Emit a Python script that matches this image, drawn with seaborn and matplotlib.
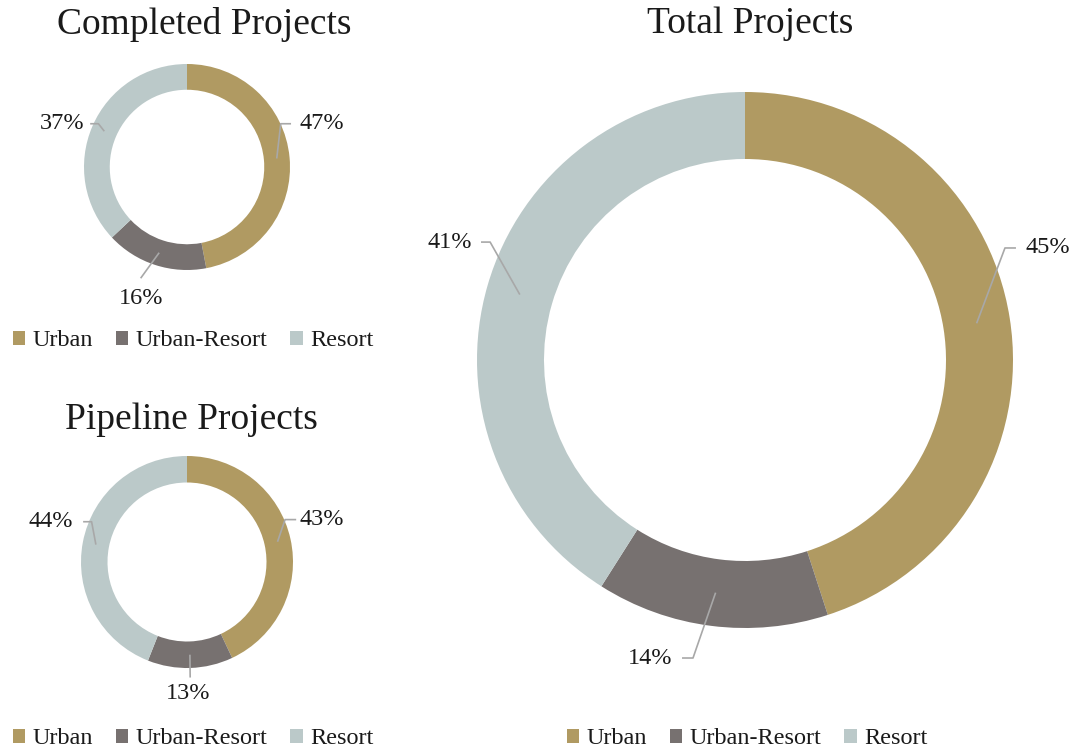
"""Donut charts of project mix: completed, pipeline and total."""

import matplotlib

matplotlib.use("Agg")
import matplotlib.pyplot as plt
import numpy as np
import seaborn as sns
from matplotlib.patches import Patch

# Data
categories = ["Urban", "Urban-Resort", "Resort"]
completed = [47, 16, 37]
pipeline = [43, 13, 44]
total = [45, 14, 41]

colors = ["#B09A62", "#777170", "#BBC9C9"]
line_color = "#A8A8A8"

sns.set_theme(style="white")
plt.rcParams["font.family"] = ["Liberation Serif", "DejaVu Serif"]

W, H = 1071, 750
fig = plt.figure(figsize=(W / 100, H / 100), dpi=100)


def donut_axes(cx, cy, r, lim=1.45):
    """Square axes centred on pixel (cx, cy), with radius r pixels = 1 unit."""
    half = r * lim
    ax = fig.add_axes([(cx - half) / W, (H - cy - half) / H, 2 * half / W, 2 * half / H])
    ax.axis("off")
    return ax


def draw_donut(ax, values, layout, fontsize, lim=1.45):
    wedges, _ = ax.pie(
        values,
        colors=colors,
        startangle=90,
        counterclock=False,
        radius=1,
        wedgeprops=dict(width=0.25, linewidth=0),
    )
    ax.set_xlim(-lim, lim)
    ax.set_ylim(-lim, lim)
    ax.set_aspect("auto")

    for w, v, (tx, ty, ha, bend, end) in zip(wedges, values, layout):
        mid = np.deg2rad((w.theta1 + w.theta2) / 2)
        sx, sy = 0.875 * np.cos(mid), 0.875 * np.sin(mid)
        ax.plot(
            [sx, bend[0], end[0]],
            [sy, bend[1], end[1]],
            color=line_color,
            lw=1.2,
            solid_capstyle="butt",
            clip_on=False,
        )
        ax.text(tx, ty, f"{v}%", ha=ha, va="center", fontsize=fontsize,
                color="#1a1a1a", clip_on=False)


def add_legend(x, y, fontsize=17.5):
    handles = [Patch(facecolor=c, edgecolor="none") for c in colors]
    fig.legend(
        handles,
        categories,
        loc="center left",
        bbox_to_anchor=(x / W, 1 - y / H),
        ncol=3,
        frameon=False,
        fontsize=fontsize,
        handlelength=0.5,
        handleheight=0.5,
        handletextpad=0.3,
        columnspacing=0.95,
        borderaxespad=0,
        borderpad=0,
        labelcolor="#1a1a1a",
    )


# Completed Projects
ax1 = donut_axes(187, 167, 103)
draw_donut(
    ax1,
    completed,
    [
        (1.09, 0.42, "left", (0.91, 0.42), (1.01, 0.42)),
        (-0.45, -1.28, "center", (-0.45, -1.08), (-0.45, -1.08)),
        (-1.0, 0.42, "right", (-0.86, 0.42), (-0.94, 0.42)),
    ],
    17.5,
)
fig.text(204 / W, 1 - 24 / H, "Completed Projects", ha="center", va="center",
         fontsize=27, color="#1a1a1a")
add_legend(13, 341)

# Pipeline Projects
ax2 = donut_axes(187, 562, 106)
draw_donut(
    ax2,
    pipeline,
    [
        (1.06, 0.40, "left", (0.925, 0.40), (1.03, 0.40)),
        (0.01, -1.24, "center", (0.03, -1.09), (0.03, -1.09)),
        (-1.075, 0.38, "right", (-0.90, 0.38), (-0.98, 0.38)),
    ],
    17.5,
)
fig.text(191 / W, 1 - 420 / H, "Pipeline Projects", ha="center", va="center",
         fontsize=27, color="#1a1a1a")
add_legend(13, 739)

# Total Projects
ax3 = donut_axes(745, 360, 268, lim=1.3)
draw_donut(
    ax3,
    total,
    [
        (1.045, 0.418, "left", (0.97, 0.418), (1.011, 0.418)),
        (-0.272, -1.112, "right", (-0.194, -1.112), (-0.235, -1.112)),
        (-1.019, 0.44, "right", (-0.951, 0.44), (-0.985, 0.44)),
    ],
    17.5,
    lim=1.3,
)
fig.text(750 / W, 1 - 24 / H, "Total Projects", ha="center", va="center",
         fontsize=27, color="#1a1a1a")
add_legend(567, 739)

plt.savefig("out.png", dpi=100)
plt.close()
